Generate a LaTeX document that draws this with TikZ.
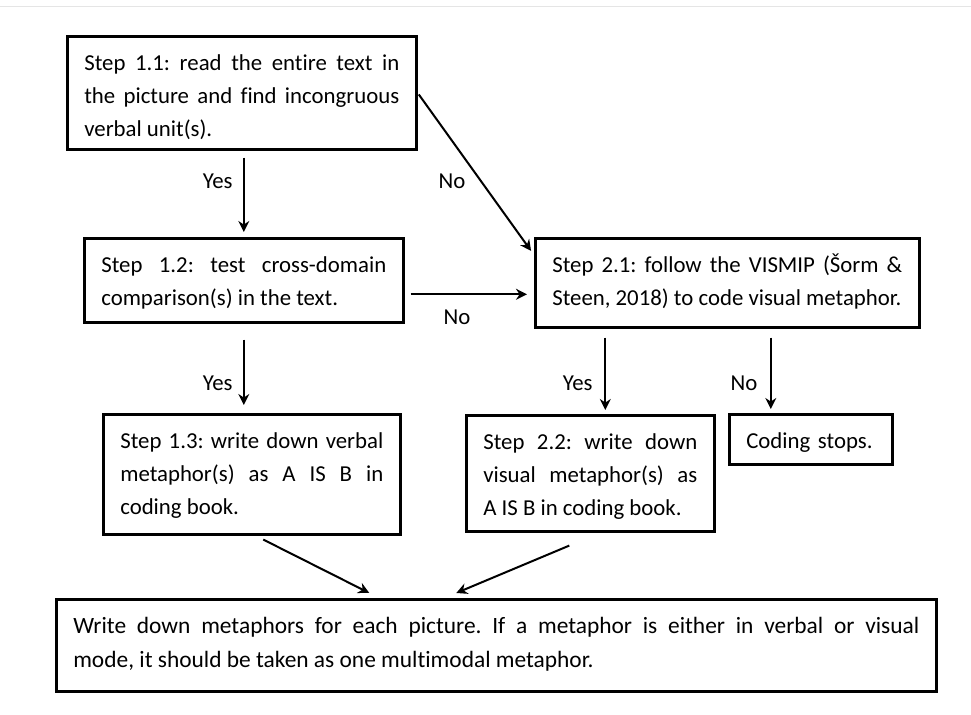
\documentclass[tikz,border=0pt]{standalone}
\usepackage{fontspec}
\setmainfont{Carlito}[Ligatures={NoCommon}]
\usetikzlibrary{arrows.meta}
\hyphenpenalty=10000
\tolerance=10000
\frenchspacing

\begin{document}
\begin{tikzpicture}[x=0.5pt,y=-0.5pt,
	font=\fontsize{11.4pt}{16.5pt}\selectfont,
	box/.style={draw, line width=1.3pt, anchor=north west, inner xsep=8.5pt, inner ysep=0pt, text height=17pt, align=justify},
	lbl/.style={inner sep=0pt},
	arr/.style={line width=1pt, -{Stealth[length=5.5pt,width=5.5pt]}}]
	\useasboundingbox (0,0) rectangle (971,715) ;
	\draw [gray!20] (0,6) -- (971,6) ;

	\draw (66,35) node[box, text width=157.5pt, text depth=39.5pt] (s11) {Step 1.1: read the entire text in\linebreak the picture and find incongruous\linebreak verbal unit(s).} ;
	\draw (83,237) node[box, text width=142.5pt, text depth=25pt] (s12) {Step 1.2: test cross-domain\linebreak comparison(s) in the text.} ;
	\draw (534,237) node[box, text width=175pt, text depth=27.5pt] (s21) {Step 2.1: follow the VISMIP (Šorm \&\linebreak Steen, 2018) to code visual metaphor.} ;
	\draw (102,413) node[box, text width=131.5pt, text depth=43pt] (s13) {Step 1.3: write down verbal\linebreak metaphor(s) as A IS B in\linebreak coding book.} ;
	\draw (465,414) node[box, text width=107pt, text depth=41pt] (s22) {Step 2.2: write down\linebreak visual metaphor(s) as\linebreak A IS B in coding book.} ;
	\draw (728,413) node[box, align=left, text width=64.5pt, text depth=8pt] (stop) {Coding stops.} ;
	\draw (55,598) node[box, font=\fontsize{11.7pt}{17pt}\selectfont, text width=423pt, text depth=29pt] (final) {Write down metaphors for each picture. If a metaphor is either in verbal or visual\linebreak mode, it should be taken as one multimodal metaphor.} ;

	\coordinate (n2) at ([yshift=-7pt]s12.east) ;
	\coordinate (y22) at ([xshift=7.5pt,yshift=2pt]s22.north) ;
	\coordinate (nst) at ([xshift=-20pt,yshift=2pt]stop.north) ;

	\draw [arr, shorten <=3.5pt, shorten >=2.5pt] (s11.south -| s12.north) -- (s12.north) ;
	\draw [arr, shorten <=1pt, shorten >=2.5pt] (s11.east) -- ([yshift=-9pt]s21.north west) ;
	\draw [arr, shorten <=3pt, shorten >=3.5pt] (n2) -- (n2 -| s21.west) ;
	\draw [arr, shorten <=8pt, shorten >=4pt] (s12.south) -- (s12.south |- s13.north) ;
	\draw [arr, shorten <=4.5pt] (y22 |- s21.south) -- (y22) ;
	\draw [arr, shorten <=4.5pt] (nst |- s21.south) -- (nst) ;
	\draw [arr] ([xshift=5.75pt,yshift=-2pt]s13.south) -- ([xshift=-63.5pt,yshift=2.5pt]final.north) ;
	\draw [arr] ([xshift=-10.5pt,yshift=-6.5pt]s22.south) -- ([xshift=-20pt,yshift=2.5pt]final.north) ;

	\draw (233,181) node[lbl, anchor=east] (yes1) {Yes} ;
	\draw (452,181) node[lbl] (no1) {No} ;
	\draw (457,317) node[lbl] (no2) {No} ;
	\draw (233,383) node[lbl, anchor=east] (yes2) {Yes} ;
	\draw (593,383) node[lbl, anchor=east] (yes3) {Yes} ;
	\draw (744,383) node[lbl] (no3) {No} ;
\end{tikzpicture}
\end{document}
